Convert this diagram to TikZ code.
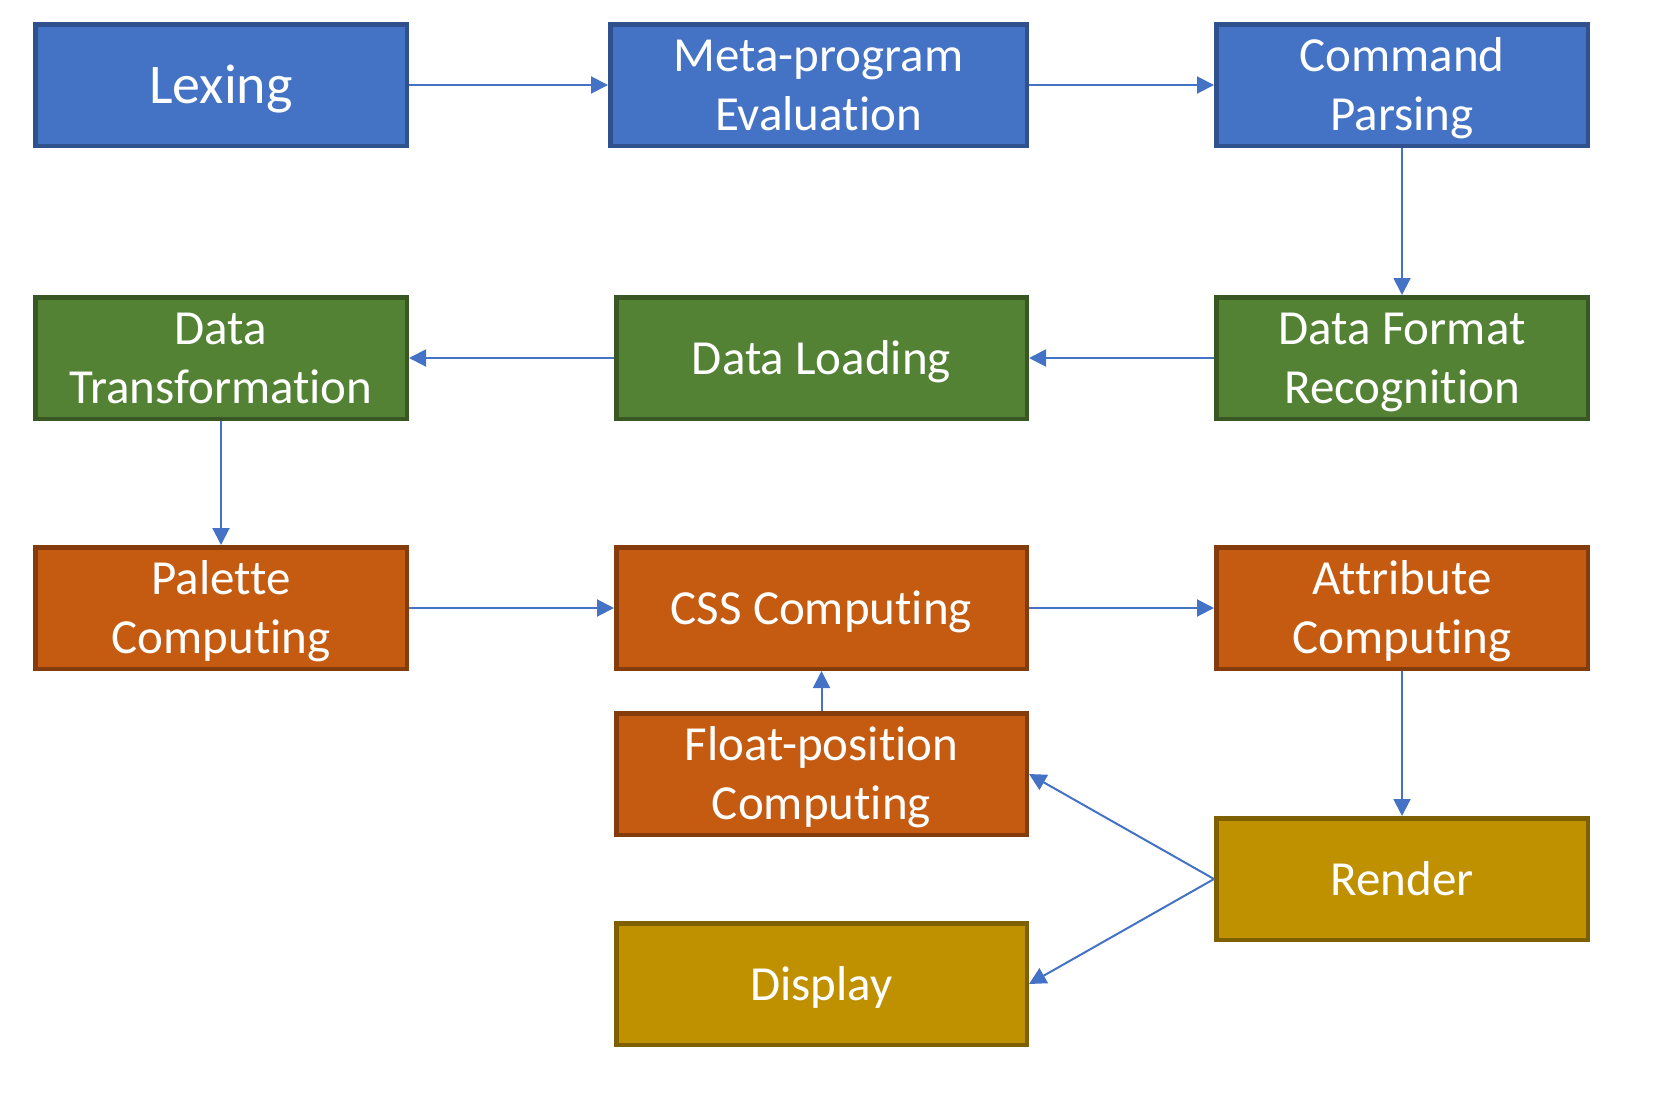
\documentclass[tikz,border=0pt]{standalone}
\usepackage{fontspec}
\setmainfont{Carlito}[Ligatures={NoCommon, NoRare}]
\usetikzlibrary{positioning, arrows.meta}

\definecolor{blueFill}{HTML}{4472C4}
\definecolor{blueLine}{HTML}{2F528F}
\definecolor{greenFill}{HTML}{548235}
\definecolor{greenLine}{HTML}{385723}
\definecolor{orangeFill}{HTML}{C55A11}
\definecolor{orangeLine}{HTML}{843C0C}
\definecolor{goldFill}{HTML}{BF9000}
\definecolor{goldLine}{HTML}{7F6000}

\newcommand{\lstrut}{\rule[-0.24em]{0pt}{1.14em}}

\begin{document}
\begin{tikzpicture}[x=1pt, y=1pt,
        >={Triangle[length=17pt, width=17pt]},
        stagebox/.style={draw, line width=4.5pt, text=white, align=center, inner sep=0pt,
            minimum height=121.5pt, minimum width=371.5pt, font=\fontsize{49}{59}\selectfont},
        widebox/.style={stagebox, minimum width=410.5pt},
        bluebox/.style={fill=blueFill, draw=blueLine},
        greenbox/.style={fill=greenFill, draw=greenLine},
        orangebox/.style={fill=orangeFill, draw=orangeLine},
        goldbox/.style={fill=goldFill, draw=goldLine},
        link/.style={->, draw=blueFill, line width=2pt}]
        \useasboundingbox (0,0) rectangle (1661,-1101);

        \node[stagebox, bluebox, font=\fontsize{56}{67}\selectfont]          (lexing)    at (221,-85) {\lstrut Lexing};
        \node[widebox, bluebox, minimum width=416.5pt, right=199pt of lexing] (meta eval) {\lstrut Meta-program\\\lstrut Evaluation};
        \node[stagebox, bluebox, right=185pt of meta eval]                   (cmd parse) {\lstrut Command\\\lstrut Parsing};
        \node[stagebox, greenbox, below=147pt of cmd parse]                  (format)    {\lstrut Data Format\\\lstrut Recognition};
        \node[widebox, greenbox, left=185pt of format]                       (loading)   {\lstrut Data Loading};
        \node[stagebox, greenbox, left=205pt of loading]                     (transform) {\lstrut Data\\\lstrut Transformation};
        \node[stagebox, orangebox, below=124pt of transform]                 (palette)   {\lstrut Palette\\\lstrut Computing};
        \node[widebox, orangebox, right=205pt of palette]                    (css)       {\lstrut CSS Computing};
        \node[stagebox, orangebox, right=185pt of css]                       (attribute) {\lstrut Attribute\\\lstrut Computing};
        \node[widebox, orangebox, below=40pt of css]                         (float)     {\lstrut Float-position\\\lstrut Computing};
        \node[stagebox, goldbox, below=145pt of attribute]                   (render)    {\lstrut Render};
        \node[widebox, goldbox, below=84pt of float]                         (display)   {\lstrut Display};

        \draw[link] (lexing)       -- (meta eval);
        \draw[link] (meta eval)    -- (cmd parse);
        \draw[link] (cmd parse)    -- (format);
        \draw[link] (format)       -- (loading);
        \draw[link] (loading)      -- (transform);
        \draw[link] (transform)    -- (palette);
        \draw[link] (palette)      -- (css);
        \draw[link] (css)          -- (attribute);
        \draw[link] (attribute)    -- (render);
        \draw[link] (float)        -- (css);
        \draw[link] (render.west)  -- (float.east);
        \draw[link] (render.west)  -- (display.east);
    \end{tikzpicture}
\end{document}
